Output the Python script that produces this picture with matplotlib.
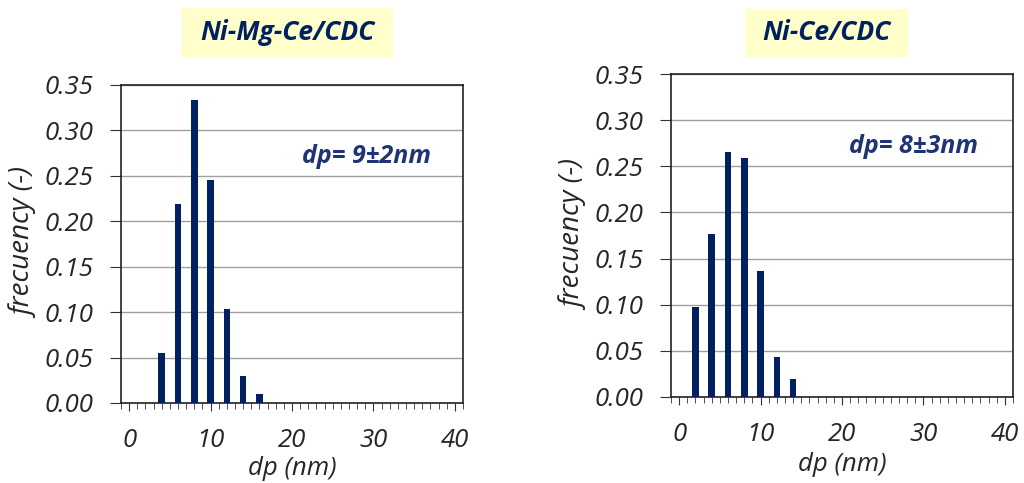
import numpy as np
from matplotlib import pyplot as plt
from matplotlib.patches import Rectangle
from matplotlib.ticker import MultipleLocator

# histogram data
titles = ['Ni-Mg-Ce/CDC', 'Ni-Ce/CDC']
notes = ['dp= 9±2nm', 'dp= 8±3nm']
dp_mgce = [4, 6, 8, 10, 12, 14, 16]
freq_mgce = [0.055, 0.219, 0.333, 0.245, 0.103, 0.030, 0.010]
dp_ce = [2, 4, 6, 8, 10, 12, 14]
freq_ce = [0.097, 0.177, 0.265, 0.259, 0.137, 0.043, 0.019]
y_ticks = [0.00, 0.05, 0.10, 0.15, 0.20, 0.25, 0.30, 0.35]
x_ticks = [0, 10, 20, 30, 40]

bar_color = '#002060'
text_color = '#1f3474'
label_color = '#262626'
plt.rcParams['font.family'] = ['Open Sans', 'DejaVu Sans']

fig = plt.figure(figsize=(10.24, 4.83), dpi=100)
W, H = 1024.0, 483.0
axes = [fig.add_axes([121 / W, 1 - 403 / H, 342 / W, 318 / H]),
        fig.add_axes([671 / W, 1 - 397 / H, 342 / W, 323 / H])]
data = [(dp_mgce, freq_mgce), (dp_ce, freq_ce)]
# title boxes in pixels: left, top, width, height
boxes = [(182, 8, 211, 49), (745, 9, 163, 48)]
note_pos = [(0.719, 0.774), (0.71, 0.774)]
xlab_y = [-0.168, -0.17]

for i, ax in enumerate(axes):
    x, y = data[i]
    ax.bar(x, y, width=0.8, color=bar_color, zorder=3)
    ax.set_xlim(-1, 41)
    ax.set_ylim(0, 0.35)
    ax.set_yticks(y_ticks)
    ax.set_yticklabels([f'{v:.2f}' for v in y_ticks], fontsize=18.5,
                       style='italic', color=label_color)
    ax.set_xticks(x_ticks)
    ax.set_xticklabels([str(v) for v in x_ticks], fontsize=18.5,
                       style='italic', color=label_color)
    ax.xaxis.set_minor_locator(MultipleLocator(1))
    ax.tick_params(axis='x', which='major', length=6, pad=12, color='#333333')
    ax.tick_params(axis='x', which='minor', length=4, color='#333333')
    ax.tick_params(axis='y', length=8, pad=12, color='#333333')
    ax.grid(axis='y', color='#a0a0a0', linewidth=1, zorder=0)
    for sp in ax.spines.values():
        sp.set_color('#222222')
        sp.set_linewidth(1.2)
    ax.set_xlabel('dp (nm)', fontsize=18.5, style='italic', color=label_color)
    ax.xaxis.set_label_coords(0.5, xlab_y[i])
    ax.set_ylabel('frecuency (-)', fontsize=20, style='italic', color=label_color)
    ax.yaxis.set_label_coords(-0.24, 0.5)
    ax.text(note_pos[i][0], note_pos[i][1], notes[i], transform=ax.transAxes,
            ha='center', va='center', fontsize=18, fontweight='bold',
            style='italic', color=text_color)

    bx, by, bw, bh = boxes[i]
    fig.patches.append(Rectangle((bx / W, 1 - (by + bh) / H), bw / W, bh / H,
                                 transform=fig.transFigure, fc='#ffffcc', ec='none'))
    fig.text((bx + bw / 2) / W, 1 - (by + bh / 2) / H, titles[i], ha='center',
             va='center', fontsize=19, fontweight='bold', style='italic',
             color=bar_color)

fig.savefig('out.png', dpi=100)
